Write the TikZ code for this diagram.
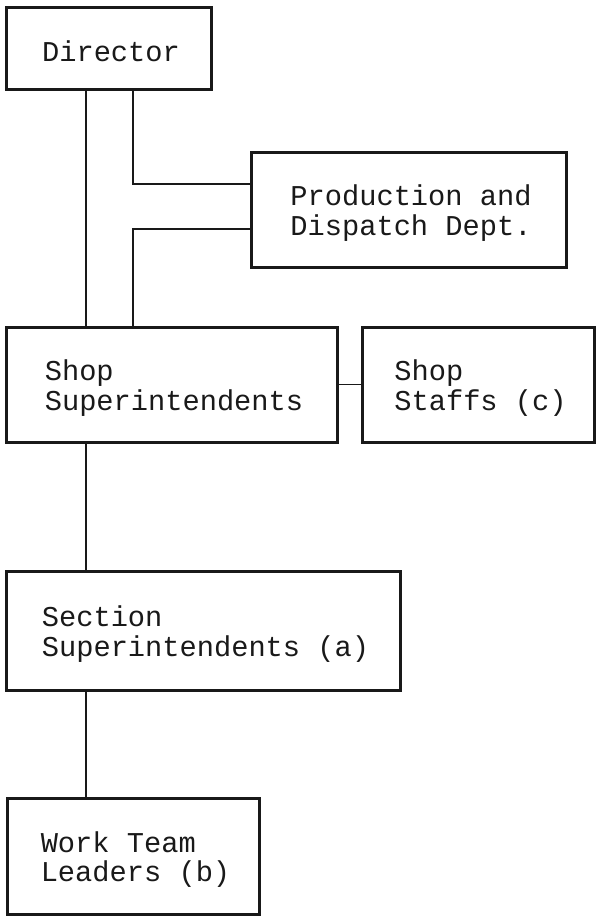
\documentclass[tikz,border=0pt]{standalone}
\usepackage{fontspec}
\setmonofont{Liberation Mono}
\begin{document}
\begin{tikzpicture}[x=1pt,y=-1pt,
  orgbox/.style={draw=black!90, line width=3pt, rectangle, outer sep=0pt, inner sep=0pt},
  orgtext/.style={inner sep=0pt, align=left, xshift=2.5pt, yshift=-3.5pt,
    font=\ttfamily\fontsize{28.7}{29.5}\selectfont, text=black!90},
  link/.style={draw=black!90, line width=1.6pt}]
\useasboundingbox (0,0) rectangle (597,919);
\fill[white] (0,0) rectangle (597,919);
\node[orgbox, minimum width=205pt, minimum height=82pt] (dir) at (108.5,48) {};
\node[orgbox, minimum width=315pt, minimum height=115pt] (prod) at (408.5,209.5) {};
\node[orgbox, minimum width=331pt, minimum height=115pt] (shop) at (171.5,384.5) {};
\node[orgbox, minimum width=232pt, minimum height=115pt] (staffs) at (478,384.5) {};
\node[orgbox, minimum width=394pt, minimum height=119pt] (sect) at (203,630.5) {};
\node[orgbox, minimum width=252pt, minimum height=116pt] (work) at (133,856) {};
\node[orgtext] (dirt) at (dir.center) {Director};
\node[orgtext] (prodt) at (prod.center) {Production and\\Dispatch Dept.};
\node[orgtext] (shopt) at (shop.center) {Shop\\Superintendents};
\node[orgtext] (staffst) at (staffs.center) {Shop\\Staffs (c)};
\node[orgtext] (sectt) at (sect.center) {Section\\Superintendents (a)};
\node[orgtext] (workt) at (work.center) {Work Team\\Leaders (b)};
\coordinate (xa) at (86,0);
\coordinate (xb) at (133,0);
\coordinate (ya) at (0,184);
\coordinate (yb) at (0,229);
\draw[link] (dir.south -| xa) -- (shop.north -| xa);
\draw[link] (dir.south -| xb) |- (prod.west |- ya);
\draw[link] (prod.west |- yb) -| (shop.north -| xb);
\draw[link] (shop.east) -- (staffs.west);
\draw[link] (shop.south -| xa) -- (sect.north -| xa);
\draw[link] (sect.south -| xa) -- (work.north -| xa);
\end{tikzpicture}
\end{document}
